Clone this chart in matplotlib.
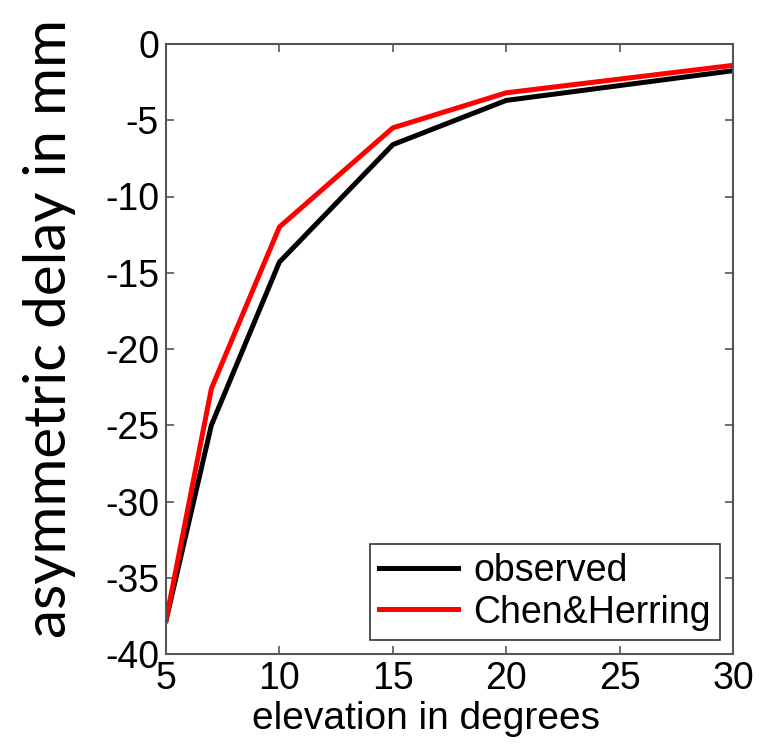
import matplotlib.pyplot as plt

# elevation (deg) and asymmetric delay (mm)
elev = [5, 7, 10, 15, 20, 30]
observed = [-37.8, -25.0, -14.3, -6.6, -3.7, -1.75]
chen_herring = [-37.8, -22.6, -12.0, -5.5, -3.2, -1.4]

xticks = [5, 10, 15, 20, 25, 30]
yticks = [0, -5, -10, -15, -20, -25, -30, -35, -40]

fig = plt.figure(figsize=(7.6, 7.44), dpi=100)
ax = fig.add_axes([166 / 760, 1 - 654 / 744, (733 - 166) / 760, (654 - 44) / 744])

ax.plot(elev, observed, color='black', linewidth=3.6, label='observed')
ax.plot(elev, chen_herring, color='#ff0000', linewidth=3.6, label='Chen&Herring')

ax.set_xlim(5, 30)
ax.set_ylim(-40, 0)
ax.set_xticks(xticks)
ax.set_yticks(yticks)

tick_font = dict(family='Liberation Sans', size=27)
ax.set_xticklabels([str(t) for t in xticks], **tick_font)
ax.set_yticklabels([str(t) for t in yticks], **tick_font)
ax.tick_params(direction='in', length=6, width=1.2, color='#555555', top=True, right=True, pad=5)
for sp in ax.spines.values():
    sp.set_color('#555555')
    sp.set_linewidth(1.5)

ax.set_xlabel('elevation in degrees', family='Liberation Sans', size=28)
ax.xaxis.set_label_coords(0.459, -0.077)
ax.set_ylabel('asymmetric delay in mm', family='Lato', size=42)
ax.yaxis.set_label_coords(-0.158, 0.534)

leg = ax.legend(loc='lower right', prop={'family': 'Liberation Sans', 'size': 27},
                fancybox=False, framealpha=1, edgecolor='#333333', handlelength=2.1,
                borderpad=0.25, labelspacing=0.15, handletextpad=0.4,
                borderaxespad=0, bbox_to_anchor=(0.977, 0.023))
leg.get_frame().set_linewidth(1.2)

fig.savefig('out.png', dpi=100)
